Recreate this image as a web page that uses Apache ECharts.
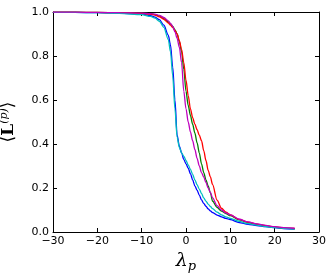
<!DOCTYPE html>
<html>
<head>
<meta charset="utf-8">
<script src="https://cdn.jsdelivr.net/npm/echarts@6/dist/echarts.min.js"></script>
<style>html,body{margin:0;padding:0;background:#fff;}#c{width:333px;height:279px;}</style>
</head>
<body>
<div id="c"></div>
<script>
const xs = [-30,-25,-20,-15,-10,-8,-7,-6,-5,-4,-3.5,-3,-2.5,-2,-1.5,-1,-0.5,0,0.5,1,1.5,2,2.5,3,3.5,4,4.5,5,5.5,6,7,8,9,10,12,14,16,18,20,22,24.5];
const blue = [.998,.998,.997,.995,.99,.983,.977,.965,.94,.895,.85,.75,.6,.44,.39,.36,.33,.31,.29,.265,.237,.21,.19,.168,.146,.13,.117,.105,.096,.088,.077,.069,.062,.056,.043,.035,.029,.024,.02,.016,.013];
const green = [.999,.999,.998,.997,.995,.992,.988,.982,.97,.955,.946,.935,.92,.9,.865,.82,.74,.64,.575,.53,.49,.45,.405,.36,.31,.27,.237,.21,.178,.14,.112,.095,.084,.074,.055,.043,.034,.027,.022,.018,.015];
const red = [.999,.999,.998,.997,.994,.99,.986,.978,.967,.95,.94,.93,.916,.9,.87,.83,.77,.69,.62,.56,.52,.49,.465,.44,.415,.37,.325,.28,.25,.215,.145,.108,.09,.078,.057,.045,.036,.029,.023,.019,.016];
const cyan = [.998,.998,.997,.994,.988,.98,.972,.958,.93,.875,.82,.71,.56,.43,.385,.36,.345,.325,.305,.285,.262,.237,.215,.195,.175,.155,.14,.127,.116,.106,.09,.078,.069,.062,.048,.038,.031,.025,.02,.017,.013];
const magenta = [.999,.999,.998,.997,.995,.993,.99,.985,.975,.96,.948,.935,.91,.88,.84,.77,.64,.56,.5,.455,.415,.375,.335,.3,.27,.25,.225,.2,.18,.155,.12,.1,.087,.078,.058,.046,.037,.03,.024,.02,.017];
const xTicks = [-30,-20,-10,0,10,20,30];
const yTicks = [0,0.2,0.4,0.6,0.8,1.0];

const seriesDefs = [
  {name:'b', data: blue, color:'#0000ff'},
  {name:'g', data: green, color:'#008000'},
  {name:'r', data: red, color:'#ff0000'},
  {name:'c', data: cyan, color:'#00bfbf'},
  {name:'m', data: magenta, color:'#bf00bf'}
];

const chart = echarts.init(document.getElementById('c'), null, {renderer:'canvas'});
const axisCommon = {
  axisLine:{show:true, onZero:false, lineStyle:{color:'#000', width:1}},
  axisTick:{show:true, inside:true, length:4, lineStyle:{color:'#000', width:1}},
  splitLine:{show:false}
};
const fmtX = v => (v < 0 ? '\u2212' + Math.abs(v) : String(v));
chart.setOption({
  animation:false,
  backgroundColor:'#fff',
  grid:{left:53, right:14, top:12, bottom:47, containLabel:false, outerBoundsMode:'none'},
  xAxis:[
    Object.assign({type:'value', min:xTicks[0], max:xTicks[xTicks.length-1], interval:10, position:'bottom',
      axisLabel:{color:'#000', fontFamily:'DejaVu Sans', fontSize:11, margin:4, formatter:fmtX},
      name:'{l|λ}{s|p}', nameLocation:'middle', nameGap:14,
      nameTextStyle:{rich:{
        l:{fontFamily:'DejaVu Serif', fontStyle:'italic', fontSize:19, color:'#000'},
        s:{fontFamily:'DejaVu Serif', fontStyle:'italic', fontSize:13, color:'#000', padding:[10,0,0,0]}
      }}
    }, axisCommon),
    Object.assign({type:'value', min:-30, max:30, interval:10, position:'top',
      axisLabel:{show:false}}, axisCommon)
  ],
  yAxis:[
    Object.assign({type:'value', min:yTicks[0], max:yTicks[yTicks.length-1], interval:0.2, position:'left',
      axisLabel:{color:'#000', fontFamily:'DejaVu Sans', fontSize:11, margin:4, formatter: v => v.toFixed(1)},
      name:'{a|⟨}{b|L}{c|(p)}{a|⟩}', nameLocation:'middle', nameGap:34,
      nameTextStyle:{rich:{
        a:{fontFamily:'DejaVu Serif', fontSize:17, color:'#000'},
        b:{fontFamily:'DejaVu Serif', fontWeight:'bold', fontSize:17, color:'#000'},
        c:{fontFamily:'DejaVu Serif', fontStyle:'italic', fontSize:11, color:'#000', padding:[0,0,9,0]}
      }}
    }, axisCommon),
    Object.assign({type:'value', min:0, max:1, interval:0.2, position:'right',
      axisLabel:{show:false}}, axisCommon)
  ],
  series: seriesDefs.map(s => ({
    name:s.name, type:'line', xAxisIndex:0, yAxisIndex:0,
    data: xs.map((x,i)=>[x, s.data[i]]),
    showSymbol:false, smooth:0.3, smoothMonotone:'x',
    lineStyle:{color:s.color, width:1.3}, itemStyle:{color:s.color}
  }))
});
</script>
</body>
</html>
